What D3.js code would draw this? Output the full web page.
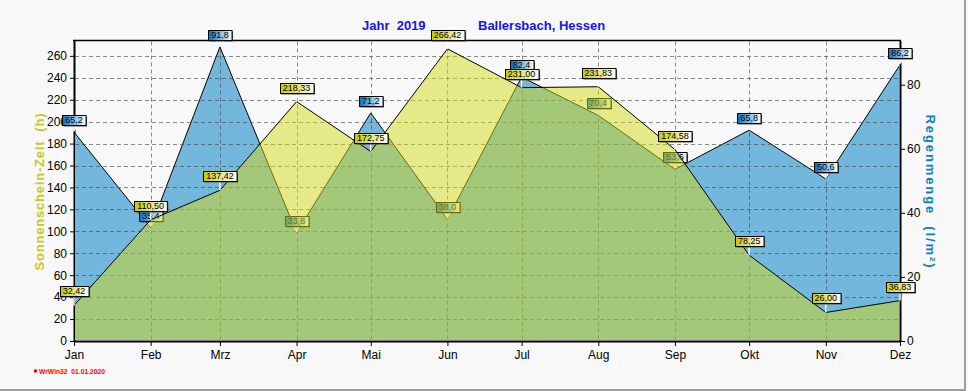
<!DOCTYPE html>
<html>
<head>
<meta charset="utf-8">
<script src="https://cdn.jsdelivr.net/npm/d3@7/dist/d3.min.js"></script>
<style>
  body { margin: 0; background: #f8f8f8; }
  text { font-family: "Liberation Sans", Arial, sans-serif; }
</style>
</head>
<body>
<script>
// monthly values, Ballersbach 2019
var months = ["Jan", "Feb", "Mrz", "Apr", "Mai", "Jun", "Jul", "Aug", "Sep", "Okt", "Nov", "Dez"];
var sunHours = [32.42, 110.50, 137.42, 218.33, 172.75, 266.42, 231.00, 231.83, 174.58, 78.25, 26.00, 36.83];
var rain = [65.2, 35.4, 91.8, 33.8, 71.2, 38.0, 82.4, 70.4, 53.6, 65.8, 50.6, 86.2];
var sunTicks = [0, 20, 40, 60, 80, 100, 120, 140, 160, 180, 200, 220, 240, 260];
var rainTicks = [0, 20, 40, 60, 80];

var W = 968, H = 391;
var pLeft = 74, pRight = 900, pTop = 40.5, pBottom = 341;

var dates = d3.utcMonth.range(new Date(Date.UTC(2019, 0, 1)), new Date(Date.UTC(2019, 11, 2)));

var x = d3.scaleUtc().domain([dates[0], dates[11]]).range([pLeft, pRight]);
var yL = d3.scaleLinear().domain([0, 274]).range([pBottom, pTop]);
var yR = d3.scaleLinear().domain([0, 93.8]).range([pBottom, pTop]);

var de = d3.formatLocale({decimal: ",", thousands: ".", grouping: [3], currency: ["", " €"]});
var fSun = de.format(".2f"), fRain = de.format(".1f");

var svg = d3.select("body").append("svg")
  .attr("width", W)
  .attr("height", H);

var defs = svg.append("defs");
function grad(id, c0, c1) {
  var g = defs.append("linearGradient").attr("id", id)
    .attr("x1", "0%").attr("x2", "100%").attr("y1", "0%").attr("y2", "0%");
  g.append("stop").attr("offset", "0%").attr("stop-color", c0);
  g.append("stop").attr("offset", "100%").attr("stop-color", c1);
}
grad("sunGrad", "#c8c800", "#ffffff");
grad("rainGrad", "#0070bf", "#ffffff");

defs.append("clipPath").attr("id", "plotClip").append("rect")
  .attr("x", pLeft + 1).attr("y", pTop).attr("width", pRight - pLeft - 2).attr("height", pBottom - pTop - 1);

// window frame
svg.append("rect").attr("x", 0).attr("y", 0).attr("width", W).attr("height", H).attr("fill", "#f8f8f8");
svg.append("line").attr("x1", 965).attr("x2", 965).attr("y1", 0).attr("y2", 390)
  .attr("stroke", "#a0a0a0").attr("stroke-width", 2);
svg.append("line").attr("x1", 0).attr("x2", 966).attr("y1", 390).attr("y2", 390)
  .attr("stroke", "#a0a0a0").attr("stroke-width", 2);

// left axis
var axL = svg.append("g").attr("transform", "translate(" + pLeft + ",0)");
axL.call(d3.axisLeft(yL).tickValues(d3.range(0, 274, 2)).tickSize(2).tickFormat(""));
axL.call(d3.axisLeft(yL).tickValues(sunTicks).tickSize(4).tickSizeOuter(0).tickPadding(3));
axL.selectAll(".domain").attr("stroke-width", 2);
axL.selectAll("text").attr("font-size", "12px").attr("fill", "#000");

// right axis
var axR = svg.append("g").attr("transform", "translate(" + pRight + ",0)");
axR.call(d3.axisRight(yR).tickValues(d3.range(0, 93, 5)).tickSize(3).tickFormat(""));
axR.call(d3.axisRight(yR).tickValues(rainTicks).tickSize(5).tickSizeOuter(0).tickPadding(2));
axR.selectAll(".domain").attr("stroke-width", 2);
axR.selectAll("text").attr("font-size", "12px").attr("fill", "#000");

// bottom axis, four steps per month
var minor = [];
for (var i = 0; i < 11; i++) {
  for (var k = 1; k < 4; k++) {
    minor.push(new Date(+dates[i] + k * (dates[i + 1] - dates[i]) / 4));
  }
}
var axB = svg.append("g").attr("transform", "translate(0," + pBottom + ")");
axB.call(d3.axisBottom(x).tickValues(minor).tickSize(3).tickFormat(""));
axB.call(d3.axisBottom(x).tickValues(dates).tickSize(5).tickSizeOuter(0).tickPadding(4)
  .tickFormat(function(d, i) { return months[i]; }));
axB.selectAll(".domain").attr("stroke-width", 2);
axB.selectAll("text").attr("font-size", "12px").attr("fill", "#000");

// frame top
svg.append("line").attr("x1", pLeft - 1).attr("x2", pRight + 1).attr("y1", pTop).attr("y2", pTop)
  .attr("stroke", "#000").attr("stroke-width", 1.5);

// rain area (right axis)
var rainArea = d3.area()
  .x(function(d, i) { return x(dates[i]); })
  .y0(yR(0))
  .y1(function(d) { return yR(d); });
var rainLine = d3.line()
  .x(function(d, i) { return x(dates[i]); })
  .y(function(d) { return yR(d); });

var rainG = svg.append("g").attr("clip-path", "url(#plotClip)");
rainG.append("path").datum(rain).attr("d", rainArea).attr("fill", "#73b7dc");
rainG.append("path").datum(rain).attr("d", rainLine)
  .attr("fill", "none").attr("stroke", "#000").attr("stroke-width", 1);

// grid
var grid = svg.append("g").attr("class", "grid");
grid.selectAll(".h").data(sunTicks.slice(1)).enter().append("line")
  .attr("x1", pLeft + 1).attr("x2", pRight - 1)
  .attr("y1", function(d) { return Math.round(yL(d)) + 0.5; })
  .attr("y2", function(d) { return Math.round(yL(d)) + 0.5; });
grid.selectAll(".v").data(dates.slice(1, 11)).enter().append("line")
  .attr("x1", function(d) { return Math.round(x(d)) + 0.5; })
  .attr("x2", function(d) { return Math.round(x(d)) + 0.5; })
  .attr("y1", pTop + 1).attr("y2", pBottom - 1);
grid.selectAll("line")
  .attr("stroke", "#404040").attr("stroke-opacity", 0.6)
  .attr("stroke-dasharray", "4,3");

// value labels
function addLabels(values, yScale, fmt, fill, gap, pointer) {
  var g = svg.append("g");
  values.forEach(function(v, i) {
    var px = x(dates[i]), py = yScale(v);
    var lg = g.append("g");
    var t = lg.append("text")
      .attr("font-size", "9px")
      .attr("text-anchor", "middle")
      .attr("x", px)
      .attr("y", py - gap - 2)
      .text(fmt(v));
    var w = t.node().getComputedTextLength() + 6, h = 10;
    var bx = Math.round(px - w / 2) + 0.5, by = Math.round(py - gap - h) + 0.5;
    if (pointer == "tri") {
      lg.insert("path", "text")
        .attr("d", "M" + (px - 4) + "," + (by + h) + "L" + (px + 4) + "," + (by + h) + "L" + px + "," + py + "Z")
        .attr("fill", "#f4f4f4");
    } else {
      lg.insert("line", "text")
        .attr("x1", px).attr("x2", px).attr("y1", by + h).attr("y2", py)
        .attr("stroke", "#fff").attr("stroke-width", 1.5);
    }
    lg.insert("rect", "text")
      .attr("x", bx + 1).attr("y", by + 1).attr("width", w).attr("height", h)
      .attr("fill", "#505050");
    lg.insert("rect", "text")
      .attr("x", bx).attr("y", by).attr("width", w).attr("height", h)
      .attr("fill", fill).attr("stroke", "#000").attr("stroke-width", 1);
  });
}

addLabels(rain, yR, fRain, "url(#rainGrad)", 7, "tri");

// sunshine area (left axis), translucent over the rain
var sunArea = d3.area()
  .x(function(d, i) { return x(dates[i]); })
  .y0(yL(0))
  .y1(function(d) { return yL(d); });
var sunLine = d3.line()
  .x(function(d, i) { return x(dates[i]); })
  .y(function(d) { return yL(d); });

var sunG = svg.append("g").attr("clip-path", "url(#plotClip)");
sunG.append("path").datum(sunHours).attr("d", sunArea)
  .attr("fill", "#d4da18").attr("fill-opacity", 0.5);
sunG.append("path").datum(sunHours).attr("d", sunLine)
  .attr("fill", "none").attr("stroke", "#000").attr("stroke-width", 1);

addLabels(sunHours, yL, fSun, "url(#sunGrad)", 9, "line");

// title
svg.append("text").attr("x", 362).attr("y", 30)
  .attr("font-size", "13px").attr("font-weight", "bold").attr("fill", "#1414f0")
  .style("white-space", "pre")
  .text("Jahr  2019");
svg.append("text").attr("x", 478).attr("y", 30)
  .attr("font-size", "13px").attr("font-weight", "bold").attr("fill", "#1414f0")
  .text("Ballersbach, Hessen");

// axis titles
svg.append("text")
  .attr("transform", "translate(44,192) rotate(-90)")
  .attr("text-anchor", "middle")
  .attr("font-size", "13px").attr("font-weight", "bold").attr("fill", "#c8c81e")
  .attr("textLength", 157).attr("lengthAdjust", "spacing")
  .style("white-space", "pre")
  .text("Sonnenschein-Zeit  (h)");
svg.append("text")
  .attr("transform", "translate(926,191) rotate(90)")
  .attr("text-anchor", "middle")
  .attr("font-size", "13px").attr("font-weight", "bold").attr("fill", "#0a80c4")
  .attr("textLength", 153).attr("lengthAdjust", "spacing")
  .style("white-space", "pre")
  .text("Regenmenge  (l/m²)");

// stamp
svg.append("circle").attr("cx", 35.5).attr("cy", 371).attr("r", 1.8).attr("fill", "#f00");
svg.append("text").attr("x", 39).attr("y", 374)
  .attr("font-size", "7.5px").attr("font-weight", "bold").attr("fill", "#f00")
  .attr("textLength", 66).attr("lengthAdjust", "spacingAndGlyphs")
  .style("white-space", "pre")
  .text("WrWin32  01.01.2020");
</script>
</body>
</html>
